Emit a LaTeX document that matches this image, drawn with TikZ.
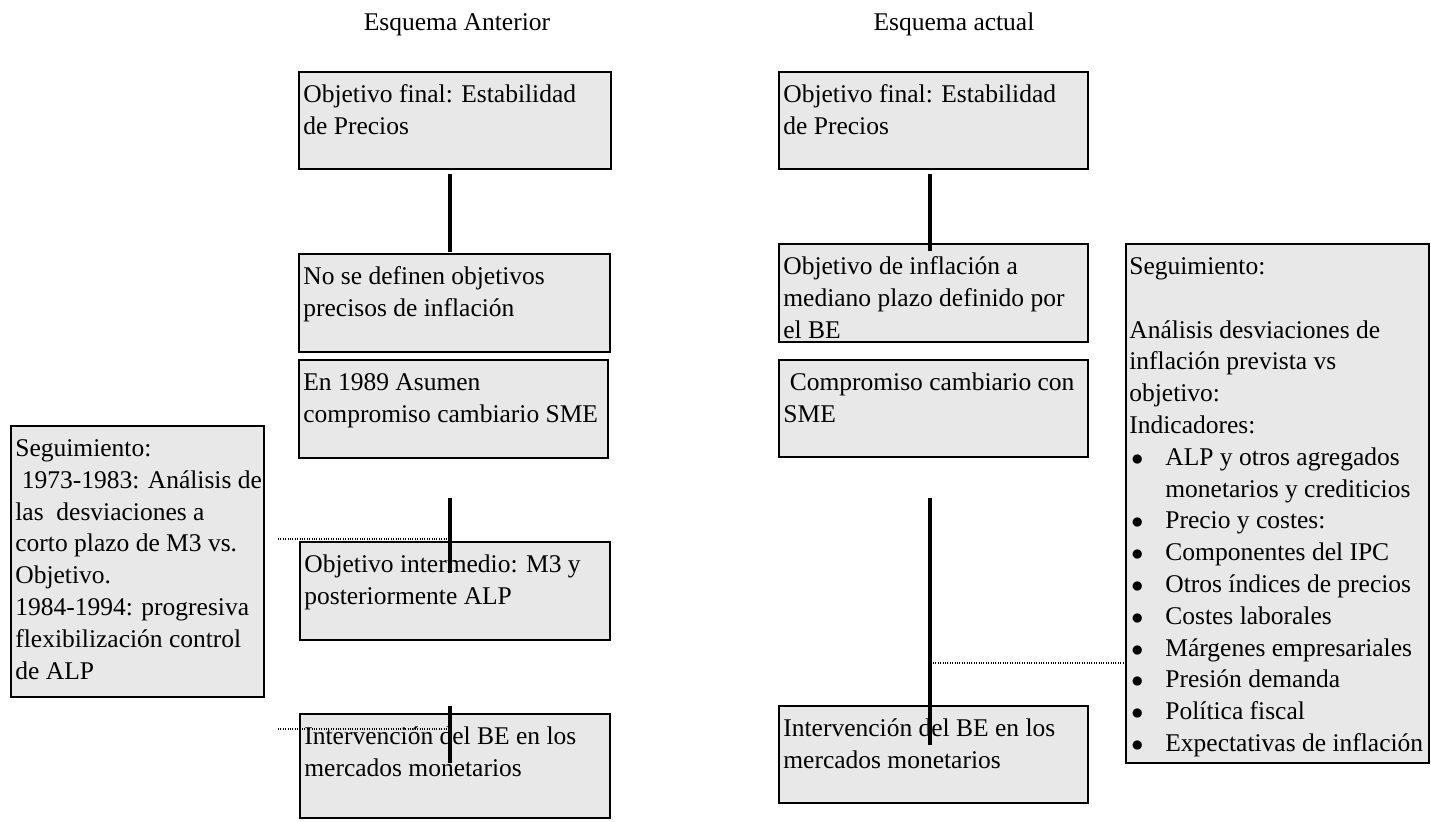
\documentclass[tikz,border=0pt]{standalone}
\usepackage{fontspec}
\setmainfont{Liberation Serif}
\usetikzlibrary{calc}
\definecolor{boxgray}{RGB}{232,232,232}
\tikzset{
  box/.style={draw=black, line width=1pt, fill=boxgray, inner sep=0pt, outer sep=0pt, anchor=north west},
  txt/.style={anchor=north west, inner sep=0pt, align=left, font=\fontsize{12.75pt}{16pt}\selectfont},
  sidetxt/.style={anchor=north west, inner sep=0pt, align=left, font=\fontsize{12.75pt}{15.9pt}\selectfont},
  title/.style={anchor=base, inner sep=0pt, font=\fontsize{12.75pt}{16pt}\selectfont},
  link/.style={line width=2pt},
  dotlink/.style={line width=0.6pt, dash pattern=on 0.5pt off 0.7pt}
}
\newcommand{\fl}{\rule{0pt}{15pt}}
\newcommand{\mkbox}[5]{\node[box, minimum width={(#4-#2)*0.5pt}, minimum height={(#5-#3)*0.5pt}] (#1) at (#2,#3) {};}
\newcommand{\bul}{\makebox[18pt][l]{\hspace{1pt}$\bullet$}}
\begin{document}
\begin{tikzpicture}[x=0.5pt,y=-0.5pt]
\useasboundingbox (0,0) rectangle (1431,821);
% titles
\node[title] (t1) at (457,30) {Esquema Anterior};
\node[title] (t2) at (954,30) {Esquema actual};
% left column boxes
\mkbox{A1}{299}{72}{611}{169}
\mkbox{A2}{299}{254}{610}{352}
\mkbox{A3}{299}{360}{608}{458}
\mkbox{A4}{300}{542}{610}{640}
\mkbox{A5}{300}{714}{610}{818}
\mkbox{L}{11}{426}{264}{697}
% right column boxes
\mkbox{B1}{779}{72}{1088}{169}
\mkbox{B2}{779}{244}{1088}{342}
\mkbox{B3}{779}{360}{1088}{457}
\mkbox{B4}{779}{706}{1088}{803}
\mkbox{R}{1126}{244}{1429}{763}
% texts
\node[txt] (A1t) at ($(A1.north west)+(4,0)$) {\fl Objetivo final: Estabilidad\\de Precios};
\node[txt] (A2t) at ($(A2.north west)+(4,0)$) {\fl No se definen objetivos\\precisos de inflación};
\node[txt] (A3t) at ($(A3.north west)+(4,0)$) {\fl En 1989 Asumen\\compromiso cambiario SME};
\node[txt] (A4t) at ($(A4.north west)+(4,0)$) {\fl Objetivo intermedio: M3 y\\posteriormente ALP};
\node[txt] (A5t) at ($(A5.north west)+(4,0)$) {\fl Intervención del BE en los\\mercados monetarios};
\node[sidetxt] (Lt) at ($(L.north west)+(4,0)$) {\fl Seguimiento:\\\ 1973-1983: Análisis de\\las\ \ desviaciones a\\corto plazo de M3 vs.\\Objetivo.\\1984-1994: progresiva\\flexibilización control\\de ALP};
\node[txt] (B1t) at ($(B1.north west)+(4,0)$) {\fl Objetivo final: Estabilidad\\de Precios};
\node[txt] (B2t) at ($(B2.north west)+(4,0)$) {\fl Objetivo de inflación a\\mediano plazo definido por\\el BE};
\node[txt] (B3t) at ($(B3.north west)+(4,0)$) {\fl\ Compromiso cambiario con\\SME};
\node[txt] (B4t) at ($(B4.north west)+(4,0)$) {\fl Intervención del BE en los\\mercados monetarios};
\node[sidetxt] (Rt) at ($(R.north west)+(3,0)$) {\fl Seguimiento:\\[15.9pt]Análisis desviaciones de\\inflación prevista vs\\objetivo:\\Indicadores:\\
\bul ALP y otros agregados\\\hspace*{18pt}monetarios y crediticios\\
\bul Precio y costes:\\
\bul Componentes del IPC\\
\bul Otros índices de precios\\
\bul Costes laborales\\
\bul Márgenes empresariales\\
\bul Presión demanda\\
\bul Política fiscal\\
\bul Expectativas de inflación};
% connector coordinates
\coordinate (a1s) at (450,174);
\coordinate (a2n) at (450,252);
\coordinate (a3s) at (450,498);
\coordinate (a4m) at (450,573);
\coordinate (a4s) at (450,706);
\coordinate (a5m) at (450,763);
\coordinate (d1l) at (278,539);
\coordinate (d1r) at (449,539);
\coordinate (d2l) at (278,729);
\coordinate (d2r) at (450,729);
\coordinate (b1s) at (930,174);
\coordinate (b2n) at (930,251);
\coordinate (b3s) at (930,498);
\coordinate (b4m) at (930,745);
\coordinate (d3l) at (933,663);
\coordinate (d3r) at (R.west |- d3l);
% connectors
\draw[link] (a1s) -- (a2n);
\draw[link] (a3s) -- (a4m);
\draw[link] (a4s) -- (a5m);
\draw[link] (b1s) -- (b2n);
\draw[link] (b3s) -- (b4m);
\draw[dotlink] (d1l) -- (d1r);
\draw[dotlink] (d2l) -- (d2r);
\draw[dotlink] (d3l) -- (d3r);
\end{tikzpicture}
\end{document}
